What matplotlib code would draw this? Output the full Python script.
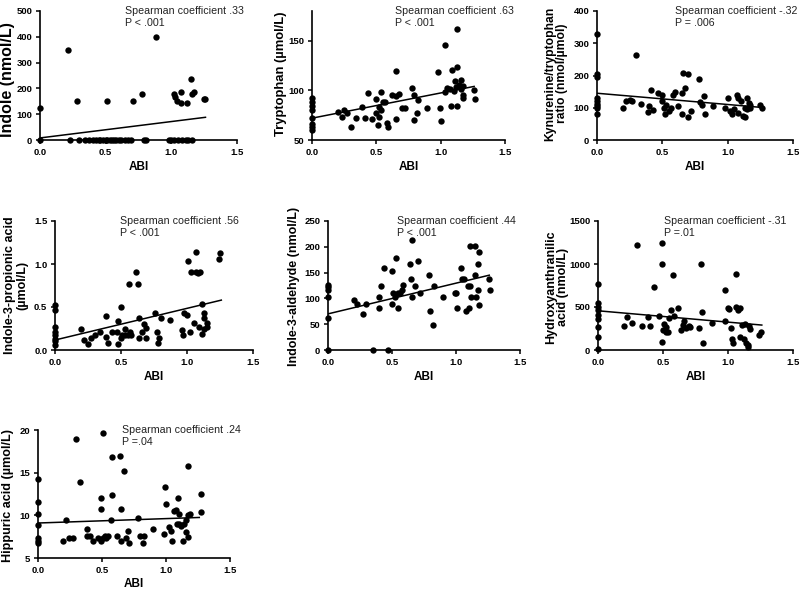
import matplotlib.pyplot as plt

plt.rcParams['font.family'] = ['Liberation Sans', 'DejaVu Sans']

# ---- data (ABI on x for every panel) ----
indole_abi = [0, 0, 0.21, 0.28, 0.51, 0.71, 0.78, 0.885, 1.02, 1.03, 1.04, 1.07, 1.07, 1.12,
              1.15, 1.16, 1.17, 1.25, 1.26,
              0.23, 0.30, 0.34, 0.37, 0.40, 0.43, 0.45, 0.46, 0.48, 0.50, 0.51, 0.53, 0.55,
              0.56, 0.58, 0.60, 0.62, 0.65, 0.67, 0.69, 0.79, 0.81, 0.98, 1.0, 1.02, 1.05,
              1.08, 1.11, 1.13, 1.16]
indole_val = [125, 0, 349, 152, 152, 152, 177, 400, 177, 165, 153, 187, 145, 145,
              237, 178, 187, 160, 160,
              0, 0, 0, 0, 0, 0, 0, 0, 0, 0, 0, 0, 0,
              0, 0, 0, 0, 0, 0, 0, 0, 0, 0, 0, 0, 0,
              0, 0, 0, 0]
indole_fit = [8, 88]

trp_abi = [0, 0, 0, 0, 0, 0, 0, 0,
           0.20, 0.23, 0.25, 0.27, 0.305, 0.34, 0.39, 0.41, 0.435, 0.47, 0.50, 0.50, 0.51,
           0.52, 0.535, 0.52, 0.54, 0.555, 0.57, 0.58, 0.59, 0.62, 0.65, 0.65, 0.65, 0.68,
           0.70, 0.72, 0.78, 0.79, 0.795, 0.815, 0.82, 0.89, 0.98, 0.995, 1.0, 1.03, 1.035,
           1.05, 1.07, 1.08, 1.09, 1.10, 1.11, 1.12, 1.13, 1.13, 1.13, 1.14, 1.16, 1.16,
           1.17, 1.17, 1.175, 1.26, 1.27]
trp_val = [92, 88, 84, 80, 72, 66, 63, 60,
           78.5, 73, 80, 77, 63, 72, 83, 72.5, 97, 71, 91, 77, 65,
           73, 98, 83.5, 80, 88, 88, 67, 63, 95, 120, 71, 94, 96,
           82, 82, 102, 95, 70, 77.5, 90, 82, 119, 82, 69, 98, 146,
           102, 101, 84, 121, 99, 109, 103, 124, 162, 84, 105, 110, 101,
           95, 92.6, 104, 100, 91]
trp_fit = [72, 104]

kt_abi = [0, 0, 0, 0, 0, 0, 0, 0, 0,
          0.20, 0.22, 0.25, 0.27, 0.30, 0.34, 0.39, 0.40, 0.41, 0.43, 0.47, 0.50, 0.50,
          0.51, 0.52, 0.53, 0.55, 0.57, 0.58, 0.60, 0.62, 0.65, 0.65, 0.66, 0.67, 0.70,
          0.70, 0.72, 0.78, 0.79, 0.80, 0.82, 0.83, 0.89, 0.98, 1.0, 1.02, 1.03, 1.05,
          1.07, 1.08, 1.08, 1.10, 1.12, 1.13, 1.13, 1.15, 1.15, 1.16, 1.17, 1.17, 1.25,
          1.26]
kt_val = [328, 205, 195, 130, 120, 112, 105, 100, 80,
          100, 122, 125, 120, 265, 112, 88, 105, 155, 92, 145, 140, 120,
          100, 82, 110, 90, 100, 140, 150, 105, 82, 145, 208, 162, 72,
          205, 90, 188, 118, 110, 135, 80, 105, 100, 130, 90, 80, 95,
          140, 130, 85, 120, 75, 100, 70, 130, 95, 115, 110, 100, 110,
          100]
kt_fit = [145, 101]

ipa_abi = [0, 0, 0, 0, 0, 0, 0, 0,
           0.20, 0.22, 0.25, 0.27, 0.30, 0.34, 0.39, 0.39, 0.40, 0.43, 0.47, 0.48, 0.48,
           0.50, 0.50, 0.51, 0.53, 0.53, 0.555, 0.57, 0.56, 0.575, 0.61, 0.63, 0.64, 0.64,
           0.66, 0.675, 0.69, 0.69, 0.76, 0.77, 0.78, 0.79, 0.80, 0.87, 0.96, 0.97, 0.98,
           1.0, 1.01, 1.02, 1.03, 1.05, 1.07, 1.07, 1.08, 1.09, 1.10, 1.11, 1.11, 1.13,
           1.13, 1.13, 1.15, 1.15, 1.24, 1.25]
ipa_val = [0.52, 0.46, 0.27, 0.21, 0.17, 0.13, 0.10, 0.06,
           0.24, 0.12, 0.07, 0.14, 0.17, 0.21, 0.39, 0.15, 0.085, 0.21, 0.21, 0.34, 0.07,
           0.50, 0.135, 0.17, 0.24, 0.17, 0.17, 0.21, 0.77, 0.17, 0.91, 0.77, 0.37, 0.14,
           0.21, 0.30, 0.14, 0.26, 0.43, 0.21, 0.08, 0.14, 0.37, 0.35, 0.23, 0.17, 0.43,
           0.41, 1.04, 0.21, 0.91, 0.31, 0.91, 1.14, 0.89, 0.27, 0.91, 0.54, 0.19, 0.24,
           0.43, 0.37, 0.31, 0.27, 1.06, 1.13]
ipa_fit = [0.116, 0.58]

i3a_abi = [0, 0, 0, 0, 0, 0,
           0.20, 0.23, 0.27, 0.30, 0.35, 0.395, 0.395, 0.415, 0.435, 0.47, 0.50, 0.50,
           0.51, 0.52, 0.53, 0.545, 0.55, 0.56, 0.58, 0.585, 0.64, 0.65, 0.655, 0.66, 0.68,
           0.70, 0.72, 0.79, 0.80, 0.82, 0.83, 0.90, 0.99, 1.0, 1.01, 1.04, 1.05, 1.06,
           1.08, 1.09, 1.10, 1.11, 1.11, 1.12, 1.145, 1.15, 1.16, 1.17, 1.175, 1.18, 1.18,
           1.26, 1.265]
i3a_val = [0, 62, 103, 117, 122, 126,
           97, 90, 69, 90, 0, 103, 82, 124, 159, 0, 153, 90,
           110, 103, 179, 111, 82, 111, 117, 126, 166, 137, 214, 103, 124,
           172, 111, 145, 76, 48, 124, 103, 111, 111, 82, 159, 137, 137,
           76, 124, 82, 201, 124, 103, 201, 145, 103, 166, 117, 88, 190,
           138, 117]
i3a_fit = [70, 145]

haa_abi = [0, 0, 0, 0, 0, 0, 0, 0, 0,
           0.20, 0.22, 0.26, 0.30, 0.34, 0.385, 0.40, 0.43, 0.47, 0.49, 0.495, 0.495,
           0.50, 0.51, 0.52, 0.525, 0.54, 0.545, 0.56, 0.58, 0.585, 0.615, 0.635, 0.65,
           0.66, 0.675, 0.70, 0.705, 0.78, 0.79, 0.80, 0.81, 0.88, 0.975, 0.98, 1.0, 1.01,
           1.02, 1.03, 1.04, 1.06, 1.065, 1.08, 1.09, 1.09, 1.11, 1.12, 1.13, 1.14, 1.15,
           1.155, 1.16, 1.17, 1.24, 1.25]
haa_val = [770, 550, 500, 465, 405, 365, 270, 155, 10,
           278, 387, 317, 1218, 278, 387, 278, 734, 394, 997, 97, 1245,
           232, 298, 213, 270, 213, 375, 464, 870, 394, 483, 232, 290,
           340, 251, 278, 263, 251, 997, 445, 77, 317, 336, 703, 483, 472,
           251, 124, 85, 495, 878, 464, 483, 155, 290, 124, 298, 85, 58,
           31, 278, 240, 174, 213]
haa_fit = [456, 290]

hip_abi = [0, 0, 0, 0, 0, 0, 0,
           0.195, 0.215, 0.24, 0.27, 0.295, 0.33, 0.385, 0.385, 0.405, 0.43, 0.47, 0.49,
           0.49, 0.495, 0.51, 0.51, 0.52, 0.535, 0.55, 0.57, 0.58, 0.58, 0.62, 0.64, 0.645,
           0.65, 0.67, 0.685, 0.70, 0.71, 0.78, 0.795, 0.82, 0.825, 0.895, 0.985, 0.99,
           1.0, 1.025, 1.04, 1.05, 1.06, 1.075, 1.085, 1.095, 1.105, 1.105, 1.12, 1.135,
           1.14, 1.155, 1.16, 1.17, 1.175, 1.175, 1.19, 1.27, 1.275]
hip_val = [14.3, 11.6, 10.1, 8.9, 7.3, 7.0, 6.75,
           7.0, 9.5, 7.3, 7.3, 19.0, 13.9, 8.4, 7.6, 7.6, 7.0, 7.4, 12.0,
           10.8, 7.0, 19.6, 7.4, 7.6, 7.4, 7.6, 9.5, 16.8, 12.4, 7.6, 17.0, 7.0,
           10.8, 15.2, 7.4, 8.2, 6.8, 9.7, 7.6, 6.8, 7.6, 8.4, 7.8, 13.3,
           11.3, 8.6, 8.2, 7.0, 10.5, 10.6, 9.0, 12.0, 10.1, 9.0, 8.8, 7.0,
           9.0, 8.0, 9.5, 15.8, 7.5, 10.0, 10.1, 10.4, 12.5]
hip_fit = [9.1, 9.75]

fit_abi = [0, 1.26]

ylabels = ['Indole (nmol/L)', 'Tryptophan (µmol/L)', 'Kynurenine/tryptophan\nratio (nmol/µmol)',
           'Indole-3-propionic acid\n(µmol/L)', 'Indole-3-aldehyde (nmol/L)',
           'Hydroxyanthranilic\nacid (nmol/L)', 'Hippuric acid (µmol/L)']
coefs = ['.33', '.63', '-.32', '.56', '.44', '-.31', '.24']
pvals = ['P < .001', 'P < .001', 'P = .006', 'P < .001', 'P < .001', 'P =.01', 'P =.04']
yticks = [[0, 100, 200, 300, 400, 500], [50, 100, 150], [0, 100, 200, 300, 400],
          [0.0, 0.5, 1.0, 1.5], [0, 50, 100, 150, 200, 250], [0, 500, 1000, 1500],
          [5, 10, 15, 20]]
ytick_labels = [None, None, None, ['0.0', '0.5', '1.0', '1.5'], None, None, None]
ylims = [(0, 500), (50, 180), (0, 400), (0, 1.5), (0, 250), (0, 1500), (5, 20)]

series = [(indole_abi, indole_val, indole_fit), (trp_abi, trp_val, trp_fit),
          (kt_abi, kt_val, kt_fit), (ipa_abi, ipa_val, ipa_fit),
          (i3a_abi, i3a_val, i3a_fit), (haa_abi, haa_val, haa_fit),
          (hip_abi, hip_val, hip_fit)]

# layout: panel boxes in pixels (left, right, top, bottom), label placement
boxes = [(40, 237, 11, 140), (312, 505, 11, 140), (597, 793, 11, 140),
         (55, 253, 221, 350), (328, 520, 221, 350), (598, 793, 221, 350),
         (38, 230, 430, 558)]
ylabel_size = [11.5, 9.4, 8.7, 9.0, 9.0, 9.0, 9.1]
ylabel_x = [-0.125, -0.13, -0.148, -0.136, -0.146, -0.15, -0.125]
ylabel_y = [0.47, 0.515, 0.515, 0.50, 0.49, 0.485, 0.49]
text_x = [0.647, 0.645, 0.60, 0.49, 0.54, 0.51, 0.66]

W, H = 800, 592
fig = plt.figure(figsize=(8, 5.92), dpi=100)

for i, (xs, ys, fit) in enumerate(series):
    l, r, t, b = boxes[i]
    ax = fig.add_axes([l / W, 1 - b / H, (r - l) / W, (b - t) / H])
    ax.scatter(xs, ys, s=21, color='black', clip_on=False, zorder=3, linewidths=0)
    ax.plot(fit_abi, fit, color='black', lw=1.1, zorder=2)
    ax.set_xlim(0, 1.5)
    ax.set_ylim(*ylims[i])
    ax.set_xticks([0, 0.5, 1.0, 1.5])
    ax.set_xticklabels(['0.0', '0.5', '1.0', '1.5'])
    ax.set_yticks(yticks[i])
    if ytick_labels[i]:
        ax.set_yticklabels(ytick_labels[i])
    for side in ['top', 'right']:
        ax.spines[side].set_visible(False)
    for side in ['left', 'bottom']:
        ax.spines[side].set_linewidth(1.2)
    ax.tick_params(direction='out', length=3, width=1.1, pad=2.5, labelsize=6.8)
    for lab in ax.get_xticklabels() + ax.get_yticklabels():
        lab.set_fontweight('bold')
    ax.set_ylabel(ylabels[i], fontsize=ylabel_size[i], fontweight='bold', linespacing=1.0)
    ax.yaxis.set_label_coords(ylabel_x[i], ylabel_y[i])
    ax.set_xlabel('ABI', fontsize=8.5, fontweight='bold')
    ax.xaxis.set_label_coords(0.5, -0.16)
    ax.text(text_x[i], 1.0, 'Spearman coefficient ' + coefs[i], fontsize=7.7,
            color='#222222', va='center', ha='left',
            transform=ax.get_xaxis_transform())
    ax.annotate(pvals[i], xy=(text_x[i], 1.0), xycoords=ax.get_xaxis_transform(),
                xytext=(0, -8.6), textcoords='offset points', fontsize=7.7,
                color='#222222', va='center', ha='left')

fig.savefig('out.png', dpi=100)
